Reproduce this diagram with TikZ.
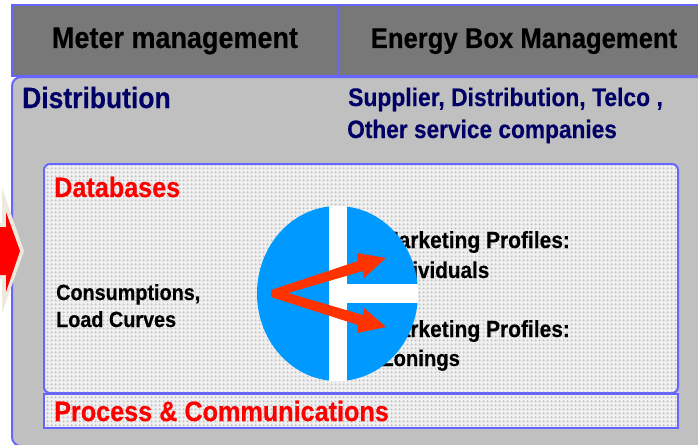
\documentclass[tikz,border=0pt]{standalone}
\usepackage{fontspec}
\setmainfont[FakeStretch=0.9,BoldFeatures={FakeBold=0.35}]{Liberation Sans}
\usetikzlibrary{patterns.meta}
\definecolor{frameblue}{HTML}{6666FF}
\definecolor{headgray}{HTML}{787878}
\definecolor{panelgray}{HTML}{C0C0C0}
\definecolor{navytext}{HTML}{000066}
\definecolor{discblue}{HTML}{0099FF}
\definecolor{arrowred}{HTML}{FF3300}
\definecolor{creamedge}{HTML}{EDE9DD}
\definecolor{dotbase}{HTML}{F0F0F0}
\tikzset{
  x=1pt,y=-1pt,
  frame/.style={draw=frameblue,line width=2pt},
  headcell/.style={frame,fill=headgray},
  headtext/.style={text=black,inner sep=0pt,anchor=base},
  navylabel/.style={text=navytext,inner sep=0pt,anchor=base west},
  redlabel/.style={text=red,font=\fontsize{28}{28}\selectfont\bfseries,inner sep=0pt,anchor=base west},
  bodytext/.style={text=black,font=\fontsize{23.3}{27}\selectfont\bfseries,inner sep=0pt,anchor=base west},
  dotfill/.style={pattern={Dots[distance=4pt,radius=1.4pt]},pattern color=black!24},
  fatarrow/.style={draw=none,fill=arrowred}
}
\begin{document}
\begin{tikzpicture}
\useasboundingbox (0,0) rectangle (698,444);
\fill[white] (0,0) rectangle (698,444);
% panel
\draw[frame,fill=panelgray,rounded corners=9pt] (12,77) -- (12,446) -- (710,446) -- (710,77) -- cycle;
% headers
\draw[headcell] (12,5) rectangle (338,76);
\draw[headcell] (338,5) rectangle (704,76);
\node[headtext,font=\fontsize{30}{30}\selectfont\bfseries] (meter) at (175,48) {Meter management};
\node[headtext,font=\fontsize{28.5}{28.5}\selectfont\bfseries] (ebox) at (524,48) {Energy Box Management};
% left arrow
\fill[creamedge] (2,188) -- (24,251) -- (2,313) -- (2,279) -- (0,279) -- (0,223) -- (2,223) -- cycle;
\fill[red] (0,227) -- (6,227) -- (6,212) -- (20,251) -- (6,292) -- (6,275) -- (0,275) -- cycle;
% labels
\node[navylabel,font=\fontsize{29.4}{29.4}\selectfont\bfseries] (dist) at (22,108) {Distribution};
\node[navylabel,font=\fontsize{25.4}{25.4}\selectfont\bfseries] (sup1) at (348,106) {Supplier, Distribution, Telco ,};
\node[navylabel,font=\fontsize{25.2}{25.2}\selectfont\bfseries] (sup2) at (347,138) {Other service companies};
% inner boxes
\draw[frame,fill=dotbase,rounded corners=6pt] (44,164) rectangle (678,393);
\fill[dotfill,rounded corners=6pt] (45,165) rectangle (677,392);
\draw[frame,fill=dotbase] (44,394) rectangle (678,428);
\fill[dotfill] (45,395) rectangle (677,427);
\node[redlabel] (db) at (54,197) {Databases};
\node[redlabel] (proc) at (54,421) {Process \& Communications};
\node[bodytext,font=\fontsize{22}{27}\selectfont\bfseries] (cons1) at (56,300) {Consumptions,};
\node[bodytext,font=\fontsize{22}{27}\selectfont\bfseries] (cons2) at (56,327) {Load Curves};
\node[bodytext] (mp1) at (381,248) {Marketing Profiles:};
\node[bodytext,font=\fontsize{23}{27}\selectfont\bfseries] (ind) at (381,278) {Individuals};
\node[bodytext] (mp2) at (381,337) {Marketing Profiles:};
\node[bodytext,font=\fontsize{22.5}{27}\selectfont\bfseries] (zon) at (381,366) {Zonings};
% disc
\fill[discblue] (337.5,293.5) ellipse [x radius=80.5, y radius=87.5];
\fill[white] (329,206) rectangle (347,381);
\fill[white] (347,284) rectangle (418,303);
% arrows in disc
\coordinate (orig) at (271,293);
\coordinate (upTip) at (386,258);
\coordinate (dnTip) at (386,327);
\fill[fatarrow] (271,290) -- (358,261) -- (357,253) -- (upTip) -- (364,278) -- (363,271) -- (288,293) -- (363,315) -- (364,308) -- (dnTip) -- (357,333) -- (358,325) -- (271,297) -- cycle;
\end{tikzpicture}
\end{document}
